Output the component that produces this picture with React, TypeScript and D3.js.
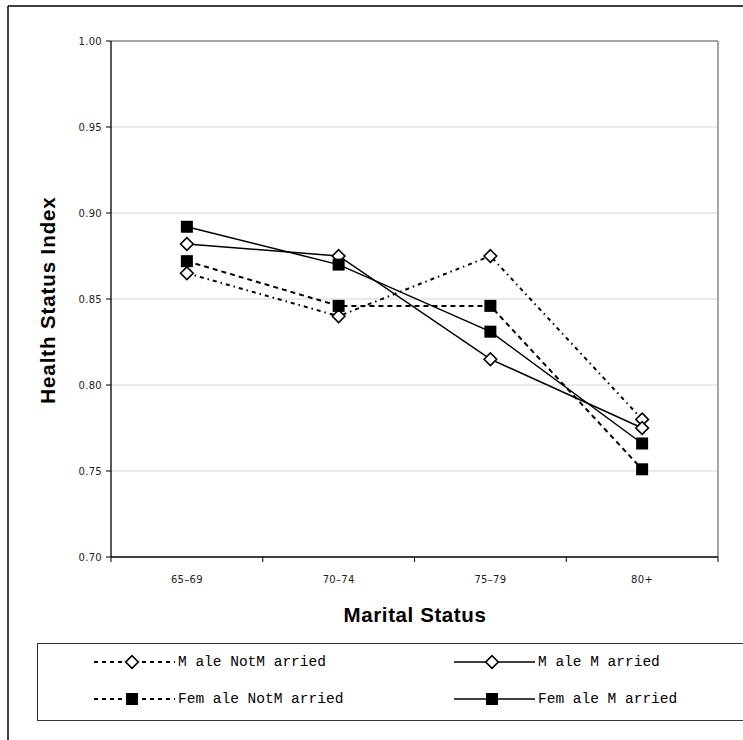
import React from "react";
import * as d3 from "d3";

// Age groups along the x axis
const categories: string[] = ["65–69", "70–74", "75–79", "80+"];

// Health status index per age group
const maleNotMarried: number[] = [0.865, 0.84, 0.875, 0.78];
const maleMarried: number[] = [0.882, 0.875, 0.815, 0.775];
const femaleNotMarried: number[] = [0.872, 0.846, 0.846, 0.751];
const femaleMarried: number[] = [0.892, 0.87, 0.831, 0.766];

const yTicks: number[] = [0.7, 0.75, 0.8, 0.85, 0.9, 0.95, 1.0];

const seriesLabels: string[] = [
  "M ale NotM arried",
  "M ale M arried",
  "Fem ale NotM arried",
  "Fem ale M arried",
];

type Series = {
  label: string;
  values: number[];
  dash: string | undefined;
  marker: "diamond" | "square";
};

const series: Series[] = [
  { label: seriesLabels[0], values: maleNotMarried, dash: "4,4,1.5,4", marker: "diamond" },
  { label: seriesLabels[1], values: maleMarried, dash: undefined, marker: "diamond" },
  { label: seriesLabels[2], values: femaleNotMarried, dash: "5,4", marker: "square" },
  { label: seriesLabels[3], values: femaleMarried, dash: undefined, marker: "square" },
];

const W = 743;
const H = 740;
const plot = { left: 111, right: 718, top: 41, bottom: 557 };

function Marker({ kind, x, y }: { kind: "diamond" | "square"; x: number; y: number }) {
  if (kind === "diamond") {
    const r = 6.3;
    return (
      <path
        d={`M${x},${y - r}L${x + r},${y}L${x},${y + r}L${x - r},${y}Z`}
        fill="#fff"
        stroke="#000"
        strokeWidth={1.6}
      />
    );
  }
  const s = 12;
  return <rect x={x - s / 2} y={y - s / 2} width={s} height={s} fill="#000" />;
}

export default function App() {
  const x = d3
    .scaleBand<string>()
    .domain(categories)
    .range([plot.left, plot.right]);
  const y = d3.scaleLinear().domain([0.7, 1.0]).range([plot.bottom, plot.top]);
  const cx = (c: string) => (x(c) as number) + x.bandwidth() / 2;

  const line = d3
    .line<number>()
    .x((_, i) => cx(categories[i]))
    .y((v) => y(v));

  const boundaries = [...categories.map((c) => x(c) as number), plot.right];

  const legendPos = [
    { lx: 94, ly: 662 },
    { lx: 454, ly: 662 },
    { lx: 94, ly: 699 },
    { lx: 454, ly: 699 },
  ];

  return (
    <svg width={W} height={H} style={{ display: "block", position: "absolute", left: 0, top: 0 }}>
      <rect x={0} y={0} width={W} height={H} fill="#fff" />
      {/* outer frame */}
      <line x1={8} y1={6} x2={W} y2={6} stroke="#000" strokeWidth={1.5} />
      <line x1={8} y1={6} x2={8} y2={H} stroke="#000" strokeWidth={1.5} />

      {/* gridlines */}
      {yTicks.slice(1).map((t) => (
        <line
          key={t}
          x1={plot.left}
          x2={plot.right}
          y1={y(t)}
          y2={y(t)}
          stroke={t === 1.0 ? "#888" : "#d4d4d4"}
          strokeWidth={t === 1.0 ? 1.5 : 1}
        />
      ))}
      <line x1={plot.right} x2={plot.right} y1={plot.top} y2={plot.bottom} stroke="#888" strokeWidth={1.5} />

      {/* axes */}
      <line x1={plot.left} x2={plot.left} y1={plot.top} y2={plot.bottom} stroke="#000" strokeWidth={1.3} />
      <line x1={plot.left} x2={plot.right} y1={plot.bottom} y2={plot.bottom} stroke="#000" strokeWidth={1.3} />
      {yTicks.map((t) => (
        <g key={t}>
          <line x1={plot.left - 5} x2={plot.left} y1={y(t)} y2={y(t)} stroke="#000" />
          <text
            x={102}
            y={y(t) + 3.5}
            textAnchor="end"
            fontFamily="DejaVu Sans"
            fontSize={10}
            letterSpacing={0.3}
            fill="#222"
          >
            {t.toFixed(2)}
          </text>
        </g>
      ))}
      {boundaries.map((b, i) => (
        <line key={i} x1={b} x2={b} y1={plot.bottom} y2={plot.bottom + 5} stroke="#000" />
      ))}
      {categories.map((c) => (
        <text
          key={c}
          x={cx(c)}
          y={583}
          textAnchor="middle"
          fontFamily="DejaVu Sans"
          fontSize={10}
          letterSpacing={0.3}
          fill="#222"
        >
          {c}
        </text>
      ))}

      {/* axis titles */}
      <text
        x={415}
        y={622}
        textAnchor="middle"
        fontFamily="Liberation Sans"
        fontWeight="bold"
        fontSize={20.5}
        letterSpacing={0.6}
      >
        Marital Status
      </text>
      <text
        transform={`translate(55,${(plot.top + plot.bottom) / 2 + 1}) rotate(-90)`}
        textAnchor="middle"
        fontFamily="Liberation Sans"
        fontWeight="bold"
        fontSize={20.5}
        letterSpacing={0.9}
      >
        Health Status Index
      </text>

      {/* series */}
      {series.map((s) => (
        <path
          key={s.label}
          d={line(s.values) as string}
          fill="none"
          stroke="#000"
          strokeWidth={s.dash ? 2 : 1.5}
          strokeDasharray={s.dash}
        />
      ))}
      {series.map((s) =>
        s.values.map((v, i) => (
          <Marker key={s.label + i} kind={s.marker} x={cx(categories[i])} y={y(v)} />
        ))
      )}

      {/* legend */}
      <rect x={37.5} y={643.5} width={W} height={77} fill="none" stroke="#333" strokeWidth={1} />
      {series.map((s, i) => {
        const { lx, ly } = legendPos[i];
        return (
          <g key={s.label}>
            <line
              x1={lx}
              x2={lx + 81}
              y1={ly}
              y2={ly}
              stroke="#000"
              strokeWidth={s.dash ? 2 : 1.5}
              strokeDasharray={s.dash ? "4,4" : undefined}
            />
            <Marker kind={s.marker} x={lx + 38} y={ly} />
            <text
              x={lx + 84}
              y={ly + 4}
              fontFamily="Liberation Mono"
              fontSize={14.5}
              fill="#000"
            >
              {s.label}
            </text>
          </g>
        );
      })}
    </svg>
  );
}
